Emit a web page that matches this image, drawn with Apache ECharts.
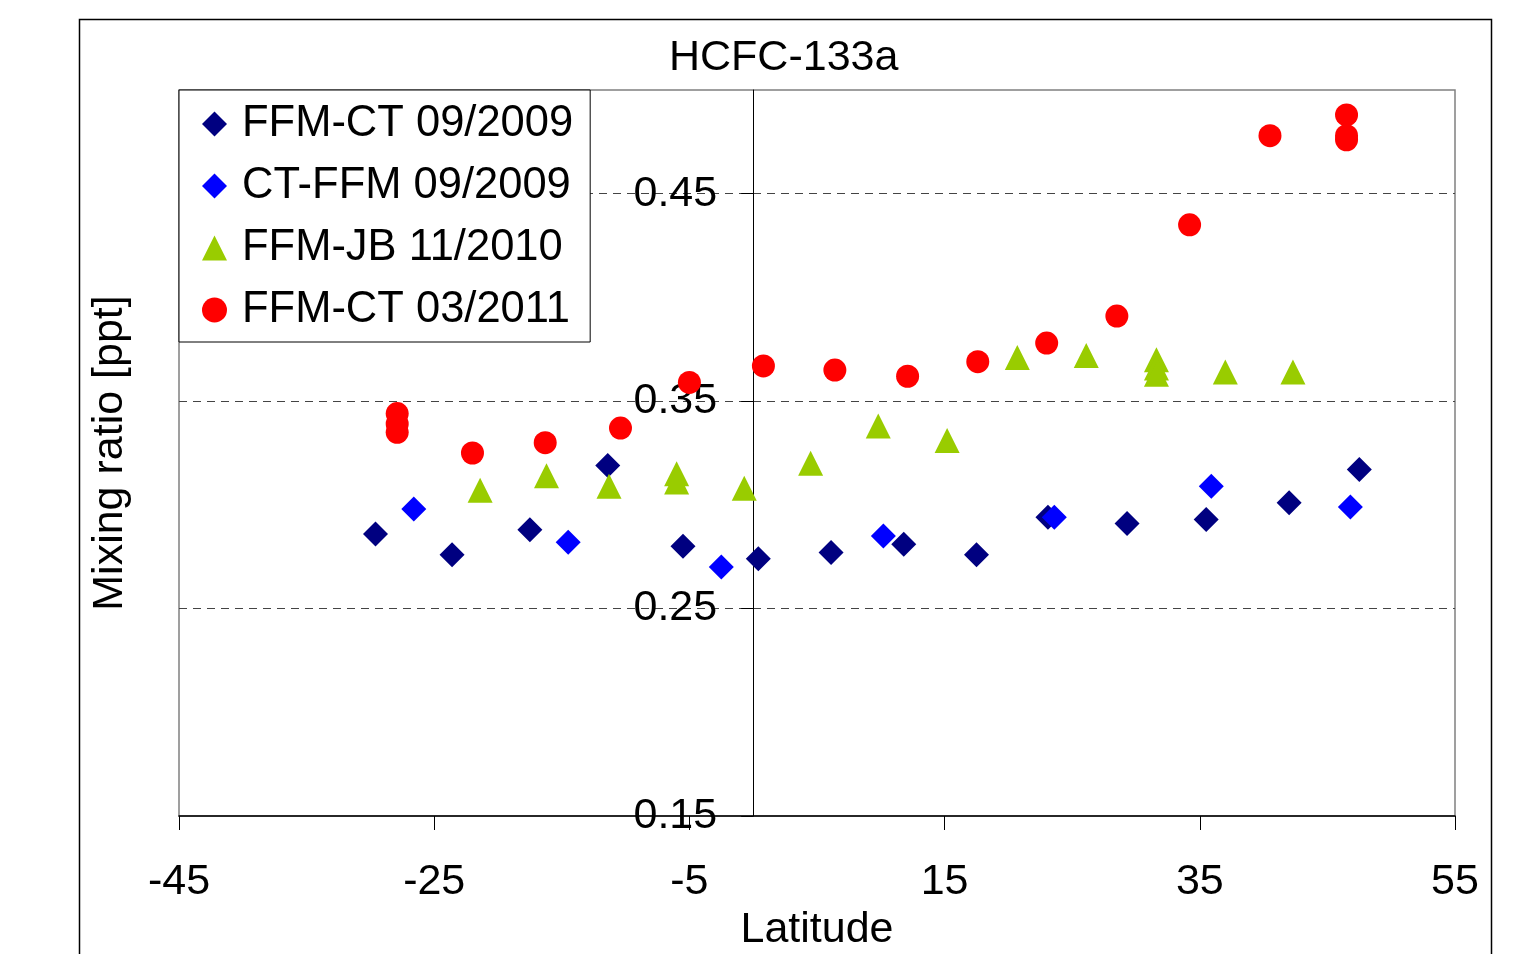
<!DOCTYPE html>
<html>
<head>
<meta charset="utf-8">
<script src="https://cdn.jsdelivr.net/npm/echarts@6/dist/echarts.min.js"></script>
<style>
html,body{margin:0;padding:0;background:#fff;}
#chart{width:1521px;height:954px;}
</style>
</head>
<body>
<div id="chart"></div>
<script>
const chartTitle = 'HCFC-133a';
const xAxisName = 'Latitude';
const yAxisName = 'Mixing ratio [ppt]';
const xTicks = [-45, -25, -5, 15, 35, 55];
const yTicks = [0.15, 0.25, 0.35, 0.45];
const seriesNames = ['FFM-CT 09/2009', 'CT-FFM 09/2009', 'FFM-JB 11/2010', 'FFM-CT 03/2011'];

const ffmCt2009X = [-29.6, -23.6, -17.5, -11.4, -5.5, 0.4, 6.1, 11.8, 17.5, 23.1, 29.3, 35.5, 42.0, 47.5];
const ffmCt2009Y = [0.286, 0.276, 0.288, 0.319, 0.280, 0.274, 0.277, 0.281, 0.276, 0.294, 0.291, 0.293, 0.301, 0.317];

const ctFfm2009X = [-26.6, -14.5, -2.5, 10.2, 23.6, 35.9, 46.8];
const ctFfm2009Y = [0.298, 0.282, 0.270, 0.285, 0.294, 0.309, 0.299];

const ffmJb2010X = [-21.4, -16.2, -11.3, -6.0, -6.0, -0.7, 4.5, 9.8, 15.2, 20.7, 26.1, 31.6, 31.6, 31.6, 37.0, 42.3];
const ffmJb2010Y = [0.307, 0.314, 0.309, 0.315, 0.311, 0.308, 0.320, 0.338, 0.331, 0.371, 0.372, 0.370, 0.366, 0.363, 0.364, 0.364];

const ffmCt2011X = [-27.9, -27.9, -27.9, -22.0, -16.3, -10.4, -5.0, 0.8, 6.4, 12.1, 17.6, 23.0, 28.5, 34.2, 40.5, 46.5, 46.5, 46.5];
const ffmCt2011Y = [0.344, 0.339, 0.335, 0.325, 0.330, 0.337, 0.359, 0.367, 0.365, 0.362, 0.369, 0.378, 0.391, 0.435, 0.478, 0.488, 0.478, 0.476];

function pairs(xs, ys) { return xs.map((x, i) => [x, ys[i]]); }

const FONT = 'Liberation Sans, Arial, sans-serif';
const FS = 43;
const GRID_LEFT = 179, GRID_RIGHT = 66;
const X_MIN = -45, X_MAX = 55;
// y axis crosses the x axis at latitude 0: shift it from the grid's left edge
const plotWidth = 1521 - GRID_LEFT - GRID_RIGHT;
const yAxisShift = -plotWidth * (0 - X_MIN) / (X_MAX - X_MIN);

const chart = echarts.init(document.getElementById('chart'), null, {renderer: 'canvas'});
chart.setOption({
  animation: false,
  backgroundColor: '#fff',
  textStyle: {fontFamily: FONT},
  title: {
    text: chartTitle,
    left: 669, top: 37, padding: 0,
    textStyle: {fontFamily: FONT, fontSize: FS, fontWeight: 'normal', color: '#000'}
  },
  graphic: [{
    type: 'rect', silent: true, z: -10,
    shape: {x: 79.5, y: 19.5, width: 1412, height: 1000},
    style: {fill: 'none', stroke: '#000', lineWidth: 1.5}
  }],
  legend: {
    orient: 'vertical',
    left: 179, top: 90,
    padding: [3, 17, 1, 23],
    itemGap: 0,
    itemWidth: 25, itemHeight: 25,
    backgroundColor: '#fff',
    borderColor: '#000', borderWidth: 1,
    data: seriesNames,
    textStyle: {fontFamily: FONT, fontSize: 43.5, color: '#000', lineHeight: 62, padding: [0, 0, 0, 10]},
    z: 10
  },
  grid: {
    left: GRID_LEFT, right: GRID_RIGHT, top: 90, bottom: 138,
    containLabel: false, outerBoundsMode: 'none',
    show: true, borderColor: '#808080', borderWidth: 1.5, backgroundColor: 'transparent'
  },
  xAxis: {
    type: 'value', min: X_MIN, max: X_MAX,
    name: xAxisName, nameLocation: 'middle', nameGap: 90,
    nameTextStyle: {fontFamily: FONT, fontSize: FS, color: '#000'},
    axisLine: {show: true, onZero: false, lineStyle: {color: '#000', width: 1.5}},
    axisTick: {show: true, length: 14, lineStyle: {color: '#000'}, customValues: xTicks},
    axisLabel: {fontFamily: FONT, fontSize: FS, color: '#000', margin: 45, customValues: xTicks},
    splitLine: {show: false}
  },
  yAxis: {
    type: 'value', min: 0.15, max: 0.5,
    position: 'left', offset: yAxisShift,
    name: yAxisName, nameLocation: 'middle', nameGap: 622,
    nameTextStyle: {fontFamily: FONT, fontSize: FS, color: '#000'},
    axisLine: {show: true, onZero: false, lineStyle: {color: '#000', width: 1}},
    axisTick: {show: true, length: 12, lineStyle: {color: '#000'}, customValues: yTicks},
    axisLabel: {fontFamily: FONT, fontSize: FS, color: '#000', margin: 36, customValues: yTicks,
      formatter: v => v.toFixed(2)},
    splitLine: {show: true, showMinLine: false, lineStyle: {color: '#444', type: [8, 6], width: 1}}
  },
  series: [
    {name: seriesNames[0], type: 'scatter', symbol: 'diamond', symbolSize: 25, symbolKeepAspect: true,
     itemStyle: {color: '#000080', opacity: 1}, data: pairs(ffmCt2009X, ffmCt2009Y), z: 2},
    {name: seriesNames[1], type: 'scatter', symbol: 'diamond', symbolSize: 25, symbolKeepAspect: true,
     itemStyle: {color: '#0000FF', opacity: 1}, data: pairs(ctFfm2009X, ctFfm2009Y), z: 3},
    {name: seriesNames[2], type: 'scatter', symbol: 'triangle', symbolSize: 25, symbolKeepAspect: true,
     itemStyle: {color: '#99CC00', opacity: 1}, data: pairs(ffmJb2010X, ffmJb2010Y), z: 4},
    {name: seriesNames[3], type: 'scatter', symbol: 'circle', symbolSize: 23, symbolKeepAspect: true,
     itemStyle: {color: '#FF0000', opacity: 1}, data: pairs(ffmCt2011X, ffmCt2011Y), z: 5}
  ]
});
</script>
</body>
</html>
